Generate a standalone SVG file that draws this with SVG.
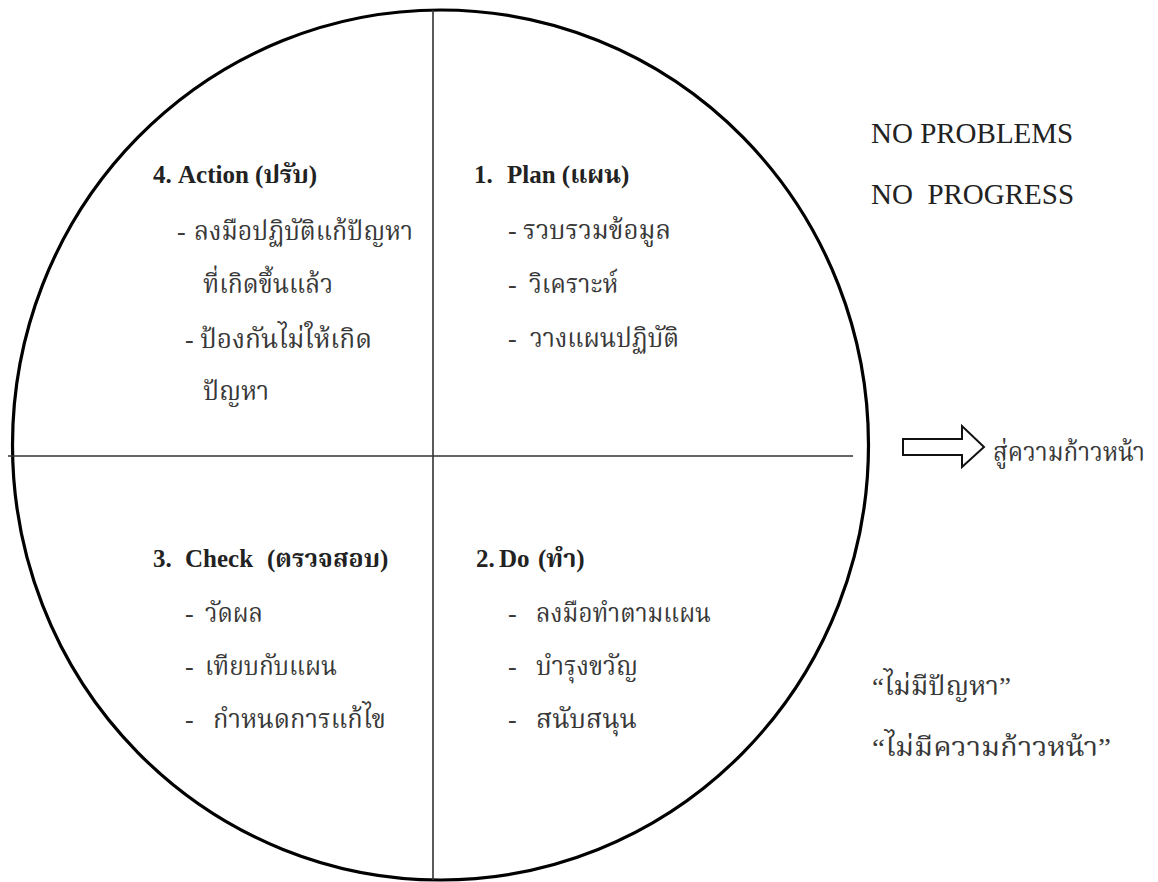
<svg xmlns="http://www.w3.org/2000/svg" width="1158" height="882" viewBox="0 0 1158 882">
<style>
.hd{font-family:"Liberation Serif","Noto Serif Thai","Noto Sans Thai",serif;font-size:25px;font-weight:bold;fill:#222}
.tx{font-family:"Liberation Serif","Noto Serif Thai","Noto Sans Thai",serif;font-size:26px;fill:#383838}
.en{font-family:"Liberation Serif",serif;font-size:29px;fill:#222;white-space:pre}
.ln{stroke:#333;stroke-width:1.6;fill:none}
</style>
<rect width="1158" height="882" fill="#fff"/>
<g id="circle"><ellipse cx="440.5" cy="445" rx="428" ry="435" fill="none" stroke="#000" stroke-width="3.2"/></g>
<g id="connectors">
<line class="ln" x1="433" y1="10" x2="433" y2="880"/>
<line class="ln" x1="8" y1="456" x2="853" y2="456"/>
<polygon points="903,439 962,439 962,426 984,447 962,467 962,455 903,455" fill="#fff" stroke="#111" stroke-width="2"/>
</g>
<g id="action">
<text class="hd" y="183"><tspan x="153">4.</tspan><tspan x="178">Action (ปรับ)</tspan></text>
<text class="tx" x="177" y="240">-</text>
<text class="tx" x="194" y="240" textLength="219" lengthAdjust="spacingAndGlyphs">ลงมือปฏิบัติแก้ปัญหา</text>
<text class="tx" x="203" y="293" textLength="130" lengthAdjust="spacingAndGlyphs">ที่เกิดขึ้นแล้ว</text>
<text class="tx" x="185" y="348">-</text>
<text class="tx" x="200" y="348" textLength="172" lengthAdjust="spacingAndGlyphs">ป้องกันไม่ให้เกิด</text>
<text class="tx" x="203" y="400" textLength="66" lengthAdjust="spacingAndGlyphs">ปัญหา</text>
</g>
<g id="plan">
<text class="hd" y="183"><tspan x="474">1.</tspan><tspan x="507">Plan (แผน)</tspan></text>
<text class="tx" x="508" y="239">-</text>
<text class="tx" x="523" y="239" textLength="148" lengthAdjust="spacingAndGlyphs">รวบรวมข้อมูล</text>
<text class="tx" x="508" y="293">-</text>
<text class="tx" x="529" y="293" textLength="89" lengthAdjust="spacingAndGlyphs">วิเคราะห์</text>
<text class="tx" x="508" y="347">-</text>
<text class="tx" x="530" y="347" textLength="149" lengthAdjust="spacingAndGlyphs">วางแผนปฏิบัติ</text>
</g>
<g id="check">
<text class="hd" y="567"><tspan x="153">3.</tspan><tspan x="185">Check</tspan><tspan x="267">(ตรวจสอบ)</tspan></text>
<text class="tx" x="185" y="622">-</text>
<text class="tx" x="205" y="622" textLength="58" lengthAdjust="spacingAndGlyphs">วัดผล</text>
<text class="tx" x="185" y="675">-</text>
<text class="tx" x="205" y="675" textLength="132" lengthAdjust="spacingAndGlyphs">เทียบกับแผน</text>
<text class="tx" x="185" y="728">-</text>
<text class="tx" x="213" y="728" textLength="173" lengthAdjust="spacingAndGlyphs">กำหนดการแก้ไข</text>
</g>
<g id="do">
<text class="hd" y="567"><tspan x="476">2.</tspan><tspan x="499">Do</tspan><tspan x="538">(ทำ)</tspan></text>
<text class="tx" x="508" y="622">-</text>
<text class="tx" x="536" y="622" textLength="175" lengthAdjust="spacingAndGlyphs">ลงมือทำตามแผน</text>
<text class="tx" x="508" y="675">-</text>
<text class="tx" x="536" y="675" textLength="102" lengthAdjust="spacingAndGlyphs">บำรุงขวัญ</text>
<text class="tx" x="508" y="728">-</text>
<text class="tx" x="536" y="728" textLength="101" lengthAdjust="spacingAndGlyphs">สนับสนุน</text>
</g>
<g id="notes">
<text class="en" x="871" y="143">NO PROBLEMS</text>
<text class="en" x="871" y="204">NO  PROGRESS</text>
<text class="tx" x="993" y="461" textLength="152" lengthAdjust="spacingAndGlyphs">สู่ความก้าวหน้า</text>
<text class="tx" x="872" y="695" textLength="139" lengthAdjust="spacingAndGlyphs">“ไม่มีปัญหา”</text>
<text class="tx" x="872" y="756" textLength="239" lengthAdjust="spacingAndGlyphs">“ไม่มีความก้าวหน้า”</text>
</g>
</svg>
